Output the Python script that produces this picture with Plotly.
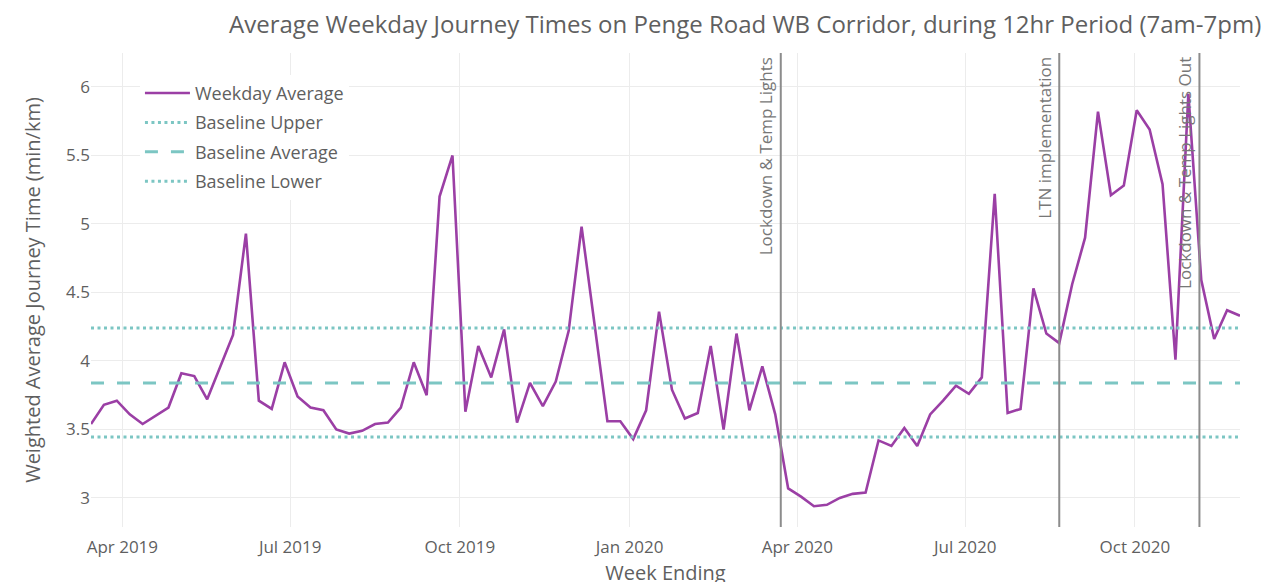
import pandas as pd
import plotly.graph_objects as go

# ---- data ----
start_week = "2019-03-15"
weekday_avg = [
    3.54, 3.68, 3.71, 3.61, 3.54, 3.60, 3.66, 3.91, 3.89, 3.72,
    3.96, 4.19, 4.93, 3.71, 3.65, 3.99, 3.74, 3.66, 3.64, 3.50,
    3.47, 3.49, 3.54, 3.55, 3.66, 3.99, 3.75, 5.20, 5.50, 3.63,
    4.11, 3.88, 4.23, 3.55, 3.84, 3.67, 3.85, 4.22, 4.98, 4.25,
    3.56, 3.56, 3.43, 3.64, 4.36, 3.79, 3.58, 3.62, 4.11, 3.50,
    4.20, 3.64, 3.96, 3.61, 3.07, 3.01, 2.94, 2.95, 3.00, 3.03,
    3.04, 3.42, 3.38, 3.51, 3.38, 3.61, 3.71, 3.82, 3.76, 3.88,
    5.22, 3.62, 3.65, 4.53, 4.20, 4.13, 4.56, 4.90, 5.82, 5.21,
    5.28, 5.83, 5.69, 5.29, 4.01, 5.95, 4.59, 4.16, 4.37, 4.33,
]
week_ending = pd.date_range(start_week, periods=len(weekday_avg), freq="7D")

baseline_upper = 4.24
baseline_average = 3.84
baseline_lower = 3.445

event_dates = ["2020-03-23", "2020-08-21", "2020-11-05"]
event_labels = ["Lockdown & Temp Lights", "LTN implementation", "Lockdown & Temp Lights Out"]

y_range = [2.788, 6.248]

PURPLE = "#9b3fa5"
TEAL = "#7cc6c3"
TEXT = "#5f5f5f"
FONT = "Open Sans"

fig = go.Figure()
fig.add_trace(go.Scatter(x=week_ending, y=weekday_avg, mode="lines",
                         name="Weekday Average", legendgroup="a",
                         line=dict(color=PURPLE, width=2.6)))
x_ends = [week_ending[0], week_ending[-1]]
fig.add_trace(go.Scatter(x=x_ends, y=[baseline_upper] * 2, mode="lines",
                         name="Baseline Upper", legendgroup="b",
                         line=dict(color=TEAL, width=3, dash="3px,3.5px")))
fig.add_trace(go.Scatter(x=x_ends, y=[baseline_average] * 2, mode="lines",
                         name="Baseline Average", legendgroup="c",
                         line=dict(color=TEAL, width=3, dash="13px,13px")))
fig.add_trace(go.Scatter(x=x_ends, y=[baseline_lower] * 2, mode="lines",
                         name="Baseline Lower", legendgroup="d",
                         line=dict(color=TEAL, width=3, dash="3px,3.5px")))

for d, lab in zip(event_dates, event_labels):
    fig.add_shape(type="line", xref="x", yref="paper", x0=d, x1=d, y0=0, y1=1,
                  line=dict(color="#8c8c8c", width=2))
    fig.add_annotation(x=d, xref="x", y=1, yref="paper", text=lab,
                       textangle=-90, showarrow=False, xanchor="right",
                       yanchor="top", xshift=-2, yshift=-2,
                       font=dict(family=FONT, size=17, color="#777777"))

fig.update_layout(
    width=1271, height=582,
    margin=dict(l=83, r=39, t=45, b=63, autoexpand=False),
    paper_bgcolor="white", plot_bgcolor="white",
    font=dict(family=FONT, color=TEXT),
    title=dict(text="Average Weekday Journey Times on Penge Road WB Corridor, during 12hr Period (7am-7pm)",
               x=0.58, xref="container", xanchor="center", y=0.972, yanchor="middle",
               font=dict(family=FONT, size=24, color=TEXT)),
    showlegend=True,
    legend=dict(x=0.0426, y=0.954, xanchor="left", yanchor="top",
                bgcolor="white", font=dict(family=FONT, size=18, color=TEXT),
                itemwidth=45, tracegroupgap=3),
    xaxis=dict(title=dict(text="Week Ending", font=dict(size=20, color=TEXT), standoff=8),
               automargin=False,
               range=[week_ending[0], week_ending[-1]],
               dtick="M3", tick0="2019-01-01", tickformat="%b %Y",
               showgrid=True, gridcolor="#ececec", zeroline=False, showline=False,
               tickfont=dict(size=17, color=TEXT),
               ticks="outside", ticklen=5, tickcolor="rgba(0,0,0,0)"),
    yaxis=dict(title=dict(text="Weighted Average Journey Time (min/km)", font=dict(size=20, color=TEXT), standoff=20),
               automargin=False,
               range=y_range, dtick=0.5, tick0=3,
               showgrid=True, gridcolor="#ececec", zeroline=False, showline=False,
               tickfont=dict(size=17, color=TEXT), ticks=""),
)

fig.write_html("out.html")
